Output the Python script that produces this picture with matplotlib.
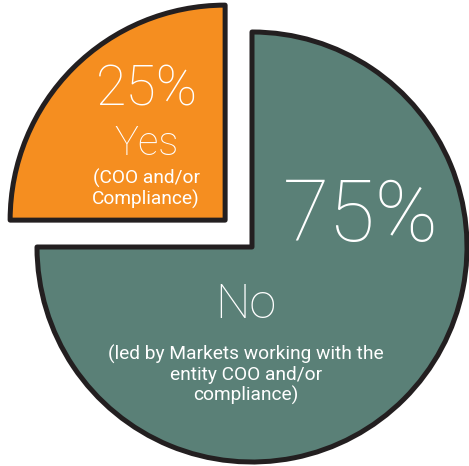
import matplotlib
matplotlib.use("Agg")
import matplotlib.pyplot as plt

labels = ["Yes", "No"]
values = [25, 75]
pct_labels = ["25%", "75%"]
sub_labels = ["(COO and/or\nCompliance)", "(led by Markets working with the\nentity COO and/or\ncompliance)"]
colors = ["#f58e20", "#5a8077"]

fam = "Roboto"
W, H = 469, 466
fig = plt.figure(figsize=(W / 100, H / 100), dpi=100)
ax = fig.add_axes([0, 0, 1, 1])
cx, cy, R = 252, H - 247, 215
ax.pie(values, colors=colors, startangle=90, counterclock=True,
       explode=[38, 0], center=(cx, cy), radius=R,
       wedgeprops=dict(edgecolor="#231f20", linewidth=3.6, joinstyle="round"))
ax.set_xlim(0, W)
ax.set_ylim(0, H)
ax.set_aspect("equal")
ax.axis("off")

def t(x, y, s, size, ls=1.2, weight="light"):
    ax.text(x, H - y, s, color="white", fontsize=size, family=fam, weight=weight,
            ha="center", va="center", linespacing=ls)

t(147, 90, pct_labels[0], 40)
t(147, 144, labels[0], 29)
t(146, 189, sub_labels[0], 13.8, 1.12, "normal")
t(361, 218, pct_labels[1], 61)
t(246, 305, labels[1], 35)
t(246, 375, sub_labels[1], 13.8, 1.12, "normal")

fig.savefig("out.png", dpi=100, facecolor="white")
